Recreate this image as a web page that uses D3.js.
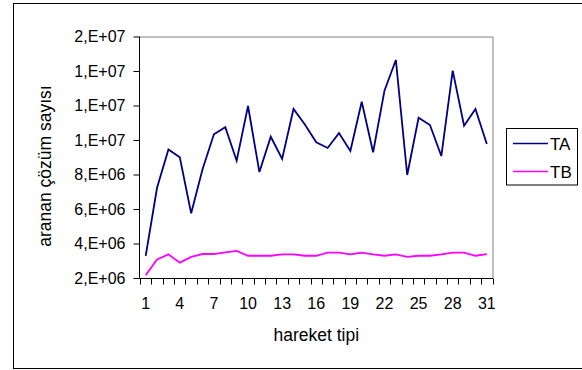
<!DOCTYPE html>
<html>
<head>
<meta charset="utf-8">
<script src="https://cdn.jsdelivr.net/npm/d3@7"></script>
<style>
  html, body { margin: 0; padding: 0; background: #fff; }
  svg { display: block; font-family: "Liberation Sans", Arial, sans-serif; }
</style>
</head>
<body>
<svg id="chart" width="582" height="370"></svg>
<script>
// Movement types 1..31
const categories = d3.range(1, 32);

// Number of searched solutions per movement type
const seriesTA = [
  3.28e6, 7.23e6, 9.45e6, 9.0e6, 5.75e6, 8.3e6, 10.33e6, 10.74e6, 8.8e6, 11.97e6,
  8.14e6, 10.19e6, 8.9e6, 11.8e6, 10.9e6, 9.87e6, 9.54e6, 10.4e6, 9.36e6, 12.22e6,
  9.29e6, 12.86e6, 14.64e6, 7.97e6, 11.29e6, 10.87e6, 9.07e6, 14.02e6, 10.83e6, 11.8e6,
  9.77e6
];
const seriesTB = [
  2.16e6, 3.08e6, 3.37e6, 2.89e6, 3.22e6, 3.39e6, 3.39e6, 3.49e6, 3.57e6, 3.29e6,
  3.29e6, 3.29e6, 3.37e6, 3.37e6, 3.29e6, 3.29e6, 3.47e6, 3.47e6, 3.37e6, 3.47e6,
  3.37e6, 3.29e6, 3.37e6, 3.22e6, 3.29e6, 3.29e6, 3.37e6, 3.47e6, 3.47e6, 3.29e6,
  3.39e6
];

const seriesNames = ["TA", "TB"];
const seriesColors = ["#000080", "#FF00FF"];

const yTickValues = [2e6, 4e6, 6e6, 8e6, 10e6, 12e6, 14e6, 16e6];
const yTickLabels = ["2,E+06", "4,E+06", "6,E+06", "8,E+06", "1,E+07", "1,E+07", "1,E+07", "2,E+07"];
const xTickLabels = ["1", "4", "7", "10", "13", "16", "19", "22", "25", "28", "31"];

const xTitle = "hareket tipi";
const yTitle = "aranan çözüm sayısı";

const svg = d3.select("#chart");
const fontSize = 16;
const titleSize = 17.5;

// Outer chart frame
svg.append("rect")
  .attr("x", 13.5).attr("y", 3.5)
  .attr("width", 600).attr("height", 365)
  .attr("fill", "#fff").attr("stroke", "#000").attr("stroke-width", 1);

const plot = { left: 140, right: 492.5, top: 36.5, bottom: 278 };

const x = d3.scaleBand()
  .domain(categories)
  .range([plot.left, plot.right])
  .padding(0);

const y = d3.scaleLinear()
  .domain([2e6, 16e6])
  .range([plot.bottom, plot.top]);

// Plot area: gray top/right edges
svg.append("path")
  .attr("d", `M${plot.left},${plot.top + 0.5}H${plot.right + 0.5}V${plot.bottom}`)
  .attr("fill", "none").attr("stroke", "#808080").attr("stroke-width", 1);

// Y axis
const yAxis = d3.axisLeft(y)
  .tickValues(yTickValues)
  .tickFormat((d, i) => yTickLabels[i])
  .tickSize(6)
  .tickPadding(8);

const gy = svg.append("g")
  .attr("transform", `translate(${plot.left - 0.5},0)`)
  .call(yAxis);
gy.select(".domain").attr("stroke", "#000").attr("d", `M0,${plot.top}V${plot.bottom}`);
gy.selectAll(".tick line").attr("stroke", "#000");
gy.selectAll(".tick text")
  .attr("font-size", fontSize)
  .attr("font-family", "Liberation Sans, Arial, sans-serif")
  .attr("fill", "#000");

// X axis: ticks sit between categories, labels every third category
const gx = svg.append("g").attr("transform", `translate(0,${plot.bottom + 0.5})`);
gx.append("line")
  .attr("x1", plot.left - 0.5).attr("x2", plot.right + 0.5)
  .attr("stroke", "#000");
const edges = categories.map(c => x(c)).concat([plot.right]);
gx.selectAll("line.tk")
  .data(edges)
  .join("line")
  .attr("class", "tk")
  .attr("x1", d => Math.round(d) + 0.5).attr("x2", d => Math.round(d) + 0.5)
  .attr("y1", 0).attr("y2", 6)
  .attr("stroke", "#000");
gx.selectAll("text")
  .data(xTickLabels)
  .join("text")
  .attr("x", d => x(+d) + x.bandwidth() / 2)
  .attr("y", 30)
  .attr("text-anchor", "middle")
  .attr("font-size", fontSize)
  .attr("fill", "#000")
  .text(d => d);

// Series lines
const line = d3.line()
  .x((d, i) => x(categories[i]) + x.bandwidth() / 2)
  .y(d => y(d));

[seriesTA, seriesTB].forEach((s, k) => {
  svg.append("path")
    .datum(s)
    .attr("fill", "none")
    .attr("stroke", seriesColors[k])
    .attr("stroke-width", 1.8)
    .attr("stroke-linejoin", "miter")
    .attr("d", line);
});

// Axis titles
svg.append("text")
  .attr("x", (plot.left + plot.right) / 2)
  .attr("y", 341)
  .attr("text-anchor", "middle")
  .attr("font-size", titleSize)
  .attr("fill", "#000")
  .text(xTitle);

svg.append("text")
  .attr("transform", "translate(51,166) rotate(-90)")
  .attr("text-anchor", "middle")
  .attr("font-size", titleSize)
  .attr("fill", "#000")
  .text(yTitle);

// Legend
const legend = svg.append("g");
legend.append("rect")
  .attr("x", 506.5).attr("y", 128.5)
  .attr("width", 71).attr("height", 56.5)
  .attr("fill", "#fff").attr("stroke", "#000").attr("stroke-width", 1);
seriesNames.forEach((name, i) => {
  const ly = 143.5 + i * 28;
  legend.append("line")
    .attr("x1", 513).attr("x2", 548)
    .attr("y1", ly).attr("y2", ly)
    .attr("stroke", seriesColors[i]).attr("stroke-width", 1.5);
  legend.append("text")
    .attr("x", 550).attr("y", ly + 6)
    .attr("font-size", 17)
    .attr("fill", "#000")
    .text(name);
});
</script>
</body>
</html>
